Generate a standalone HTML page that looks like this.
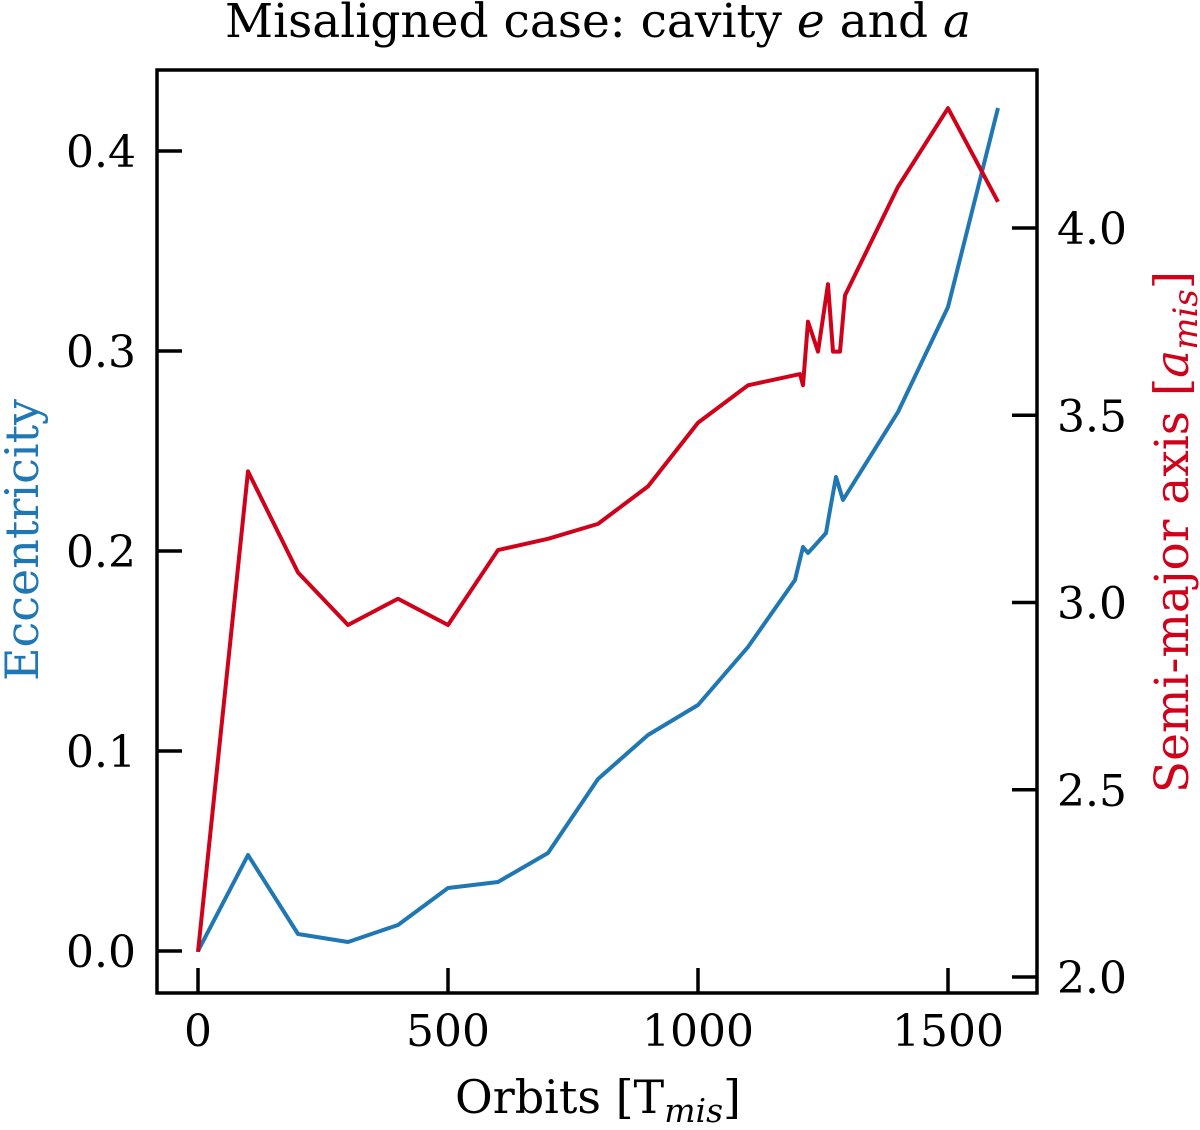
<!DOCTYPE html>
<html><head><meta charset="utf-8"><style>
body{margin:0;background:#fff;}
svg text{font-family:"DejaVu Serif","Liberation Serif",serif;fill:#000;}
</style></head><body>
<svg id="chart" width="1200" height="1125" xmlns="http://www.w3.org/2000/svg">
<text x="598" y="37" font-size="47" text-anchor="middle">Misaligned case: cavity <tspan font-style="italic">e</tspan> and <tspan font-style="italic">a</tspan></text>
<g id="plot"></g>
<rect x="157" y="70" width="880" height="923" fill="none" stroke="#000" stroke-width="3.5"/>
<text x="598" y="1113" font-size="46" text-anchor="middle">Orbits [T<tspan font-style="italic" font-size="33" dy="9">mis</tspan><tspan dy="-9">]</tspan></text>
<text transform="translate(38,540) rotate(-90)" font-size="46" text-anchor="middle" style="fill:#1f77b4">Eccentricity</text>
<text transform="translate(1188,532) rotate(-90)" font-size="47" text-anchor="middle" style="fill:#d0021b">Semi-major axis [<tspan font-style="italic">a</tspan><tspan font-style="italic" font-size="34" dy="9">mis</tspan><tspan dy="-9">]</tspan></text>
</svg>
<script>
const xTicks=[0,500,1000,1500];
const eTicks=[0.0,0.1,0.2,0.3,0.4];
const eTickLabels=["0.0","0.1","0.2","0.3","0.4"];
const aTicks=[2.0,2.5,3.0,3.5,4.0];
const aTickLabels=["2.0","2.5","3.0","3.5","4.0"];
const aOrbits=[0,100,200,300,400,500,600,700,800,900,1000,1100,1204,1210,1220,1240,1260,1270,1284,1294,1400,1500,1600];
const aValues=[2.067,3.35,3.08,2.94,3.01,2.94,3.14,3.17,3.21,3.31,3.48,3.58,3.61,3.58,3.75,3.67,3.85,3.67,3.67,3.82,4.11,4.32,4.07];
const eOrbits=[0,100,200,300,400,500,600,700,800,900,1000,1100,1194,1210,1220,1240,1256,1264,1276,1290,1400,1500,1600];
const eValues=[0,0.048,0.0085,0.0045,0.013,0.0315,0.0345,0.049,0.086,0.108,0.123,0.152,0.1855,0.202,0.199,0.2045,0.209,0.2205,0.237,0.2255,0.2695,0.322,0.4215];
const X=v=>198+v*0.5;
const YE=v=>951-v*2000;
const YA=v=>977-(v-2)*374.5;
const NS="http://www.w3.org/2000/svg";
const g=document.getElementById('plot');
function mk(t,a){const e=document.createElementNS(NS,t);for(const k in a)e.setAttribute(k,a[k]);g.appendChild(e);return e;}
xTicks.forEach(v=>{
 const l=mk('line',{x1:X(v),x2:X(v),y1:993,y2:968,stroke:'#000','stroke-width':3.5});
 
 
 const t=mk('text',{x:X(v),y:1046,'font-size':44,'text-anchor':'middle'});t.textContent=v;
 
 
});
eTicks.forEach((v,i)=>{
 const l=mk('line',{x1:157,x2:182,y1:YE(v),y2:YE(v),stroke:'#000','stroke-width':3.5});
 
 
 const t=mk('text',{x:136,y:YE(v)+16,'font-size':44,'text-anchor':'end'});t.textContent=eTickLabels[i];
 
 
});
aTicks.forEach((v,i)=>{
 const l=mk('line',{x1:1012,x2:1037,y1:YA(v),y2:YA(v),stroke:'#000','stroke-width':3.5});
 
 
 const t=mk('text',{x:1057,y:YA(v)+16,'font-size':44});t.textContent=aTickLabels[i];
 
 
});
const pe=mk('polyline',{points:eOrbits.map((o,i)=>X(o)+','+YE(eValues[i])).join(' '),fill:'none',stroke:'#1f77b4','stroke-width':4,'stroke-linejoin':'round'});


const pa=mk('polyline',{points:aOrbits.map((o,i)=>X(o)+','+YA(aValues[i])).join(' '),fill:'none',stroke:'#d0021b','stroke-width':4,'stroke-linejoin':'round'});


</script>
</body></html>
